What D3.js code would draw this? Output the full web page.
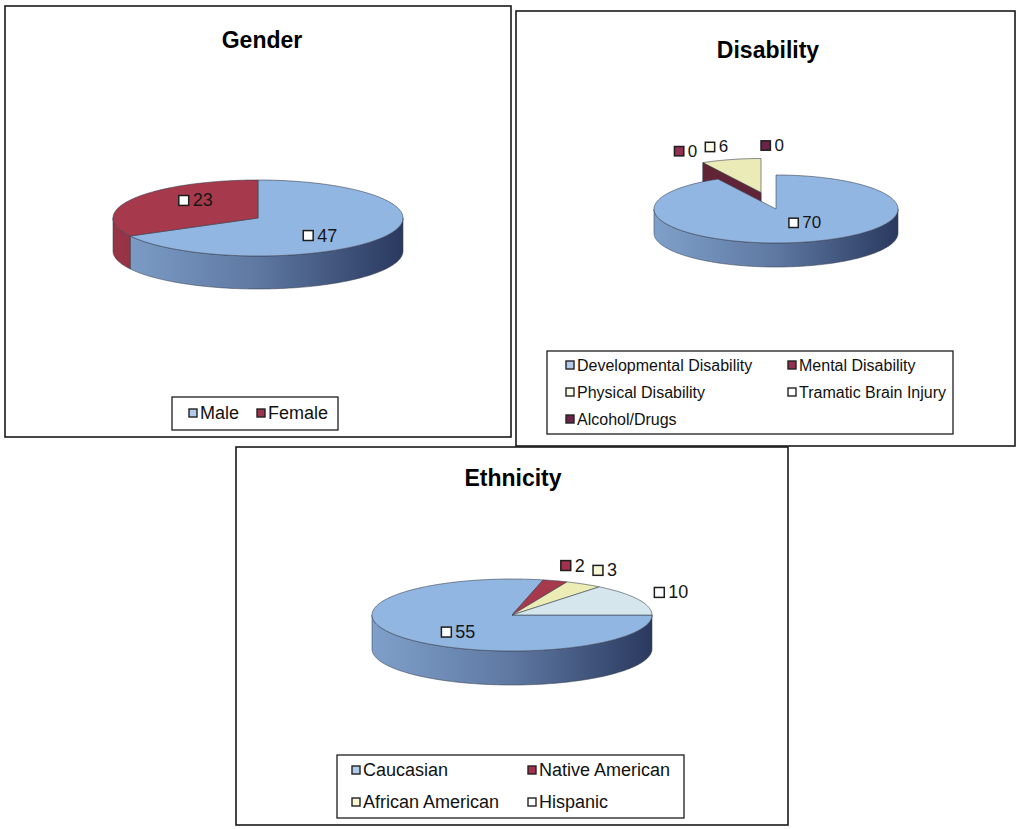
<!DOCTYPE html>
<html>
<head>
<meta charset="utf-8">
<script src="https://cdnjs.cloudflare.com/ajax/libs/d3/7.8.5/d3.min.js"></script>
<style>
  body { margin: 0; background: #fff; }
  svg { display: block; }
</style>
</head>
<body>
<svg id="chart" width="1019" height="829"></svg>
<script>
// ---- data ----
const genderCategories = ["Male", "Female"];
const genderValues = [47, 23];

const disabilityCategories = ["Developmental Disability", "Mental Disability", "Physical Disability",
                              "Tramatic Brain Injury", "Alcohol/Drugs"];
const disabilityValues = [70, 0, 6, 0, 0];

const ethnicityCategories = ["Caucasian", "Native American", "African American", "Hispanic"];
const ethnicityValues = [55, 2, 3, 10];

// ---- styling ----
const FONT = "'Liberation Sans', Arial, Helvetica, sans-serif";
const BLUE = "#92b6e2", BLUE_DEEP = "#2a395f", BLUE_KEY = "#b3cbea";
const RED = "#a63a4c", RED_DEEP = "#5a1a28";

const genderStyle = {
  fills: [BLUE, RED], deeps: [BLUE_DEEP, RED_DEEP], keys: [BLUE_KEY, "#9c3450"]
};
const disabilityStyle = {
  fills: [BLUE, "#9b3a56", "#ebebb8", "#f2fafc", "#5e1f4a"],
  deeps: [BLUE_DEEP, "#4a1526", "#7d7d55", "#8a9498", "#2a0c22"],
  keys: [BLUE_KEY, "#93304f", "#fbfbe6", "#ffffff", "#6a2448"]
};
const ethnicityStyle = {
  fills: [BLUE, RED, "#ececb5", "#d5e6ec"],
  deeps: [BLUE_DEEP, RED_DEEP, "#80805a", "#6f8088"],
  keys: [BLUE_KEY, "#a3304c", "#f7f7d4", "#ffffff"]
};

const charts = [
  {
    id: "gender", title: "Gender", categories: genderCategories, values: genderValues, style: genderStyle,
    frame: { x: 5, y: 6, w: 506, h: 431 }, titleX: 262, titleY: 48,
    pie: { cx: 258, cy: 218, rx: 145, ry: 38, depth: 33, start: 0 },
    explode: [0, 0], labelSide: ["in", "in"],
    inFx: 0.5, inFy: 0.9, outDx: 18, outDy: 16, labelSize: 18,
    legend: { x: 172, y: 397, w: 166, h: 33, colX: [189, 257], rowY: [413], size: 18 }
  },
  {
    id: "disability", title: "Disability", categories: disabilityCategories, values: disabilityValues, style: disabilityStyle,
    frame: { x: 516, y: 11, w: 499, h: 435 }, titleX: 768, titleY: 58,
    pie: { cx: 776, cy: 209, rx: 122, ry: 34, depth: 24, start: 0 },
    explode: [0, 0.5, 0.5, 0.5, 0.5], labelSide: ["in", "out", "out", "out", "out"],
    inFx: 0.97, inFy: 0.42, outDx: 12, outDy: 13, labelSize: 17,
    legend: { x: 547, y: 351, w: 406, h: 83, colX: [566, 788], rowY: [365, 392, 419], size: 16 }
  },
  {
    id: "ethnicity", title: "Ethnicity", categories: ethnicityCategories, values: ethnicityValues, style: ethnicityStyle,
    frame: { x: 236, y: 447, w: 552, h: 378 }, titleX: 513, titleY: 486,
    pie: { cx: 512, cy: 615, rx: 140, ry: 36, depth: 34, start: Math.PI / 2 },
    explode: [0, 0, 0, 0], labelSide: ["in", "out", "out", "out"],
    inFx: 0.49, inFy: 0.76, outDx: 18, outDy: 16, labelSize: 18,
    legend: { x: 337, y: 755, w: 347, h: 63, colX: [352, 528], rowY: [770, 802], size: 18 }
  }
];

const svg = d3.select("#chart");
const defs = svg.append("defs");
const outline = "#3a4050";

// projected point on the pie rim at angle a (clockwise from 12 o'clock)
function rim(p, a, off, dy = 0) {
  return [p.cx + off[0] + p.rx * Math.sin(a), p.cy + off[1] + dy - p.ry * Math.cos(a)];
}
function rimPoints(p, a0, a1, off, dy = 0) {
  const n = Math.max(2, Math.ceil(Math.abs(a1 - a0) / 0.02));
  return d3.range(n + 1).map(i => rim(p, a0 + (a1 - a0) * i / n, off, dy));
}
// parts of [a0,a1] on the front half of the pie, where the outer wall is seen
function frontRanges(a0, a1) {
  const out = [];
  for (let k = -1; k <= 2; k++) {
    const lo = Math.PI / 2 + 2 * Math.PI * k, hi = 3 * Math.PI / 2 + 2 * Math.PI * k;
    const s = Math.max(a0, lo), e = Math.min(a1, hi);
    if (e > s) out.push([s, e]);
  }
  return out;
}
const poly = pts => "M" + pts.map(q => q[0].toFixed(2) + "," + q[1].toFixed(2)).join("L") + "Z";

function drawLabel(g, x, y, align, text, fill, size) {
  const lg = g.append("g");
  const t = lg.append("text")
    .attr("font-family", FONT).attr("font-size", size).attr("fill", "#161616")
    .attr("dominant-baseline", "central").text(text);
  const tw = t.node().getComputedTextLength();
  const m = size * 0.55, gap = 4, total = m + gap + tw;
  const left = align === "left" ? x : align === "right" ? x - total : x - total / 2;
  lg.append("rect").attr("x", left).attr("y", y - m / 2).attr("width", m).attr("height", m)
    .attr("fill", fill).attr("stroke", "#1e1e1e").attr("stroke-width", 1.5);
  t.attr("x", left + m + gap).attr("y", y);
}

charts.forEach(c => {
  const g = svg.append("g").attr("class", c.id);
  const p = c.pie;
  const st = c.style;

  // panel frame and title
  g.append("rect").attr("x", c.frame.x).attr("y", c.frame.y).attr("width", c.frame.w).attr("height", c.frame.h)
    .attr("fill", "#fff").attr("stroke", "#1a1a1a").attr("stroke-width", 1.6);
  g.append("text").attr("x", c.titleX).attr("y", c.titleY).attr("text-anchor", "middle")
    .attr("font-family", FONT).attr("font-weight", "bold").attr("font-size", 23).attr("fill", "#000")
    .text(c.title);

  const arcs = d3.pie().sort(null).startAngle(p.start).endAngle(p.start + 2 * Math.PI)(c.values);

  // exploded slices move together along the bisector of their combined span
  const ex = arcs.filter((a, i) => c.explode[i] > 0);
  let offset = [0, 0];
  if (ex.length) {
    const mid = (d3.min(ex, a => a.startAngle) + d3.max(ex, a => a.endAngle)) / 2;
    const e = d3.max(c.explode);
    offset = [Math.sin(mid) * p.rx * e, -Math.cos(mid) * p.ry * e];
  }
  const offOf = i => c.explode[i] > 0 ? offset : [0, 0];

  // wall gradients: light on the left, deep on the right
  arcs.forEach((a, i) => {
    const grad = defs.append("linearGradient").attr("id", `${c.id}-wall-${i}`)
      .attr("gradientUnits", "userSpaceOnUse")
      .attr("x1", p.cx - p.rx).attr("x2", p.cx + p.rx).attr("y1", 0).attr("y2", 0);
    const mix = d3.interpolateRgb(st.fills[i], st.deeps[i]);
    [[0, 0.18], [0.5, 0.5], [1, 1]].forEach(([o, t]) =>
      grad.append("stop").attr("offset", o).attr("stop-color", mix(t)));
  });

  // cut faces of exploded slices (zero-width slices drawn last so they show)
  const faceOrder = arcs.map((a, i) => i).filter(i => c.explode[i] > 0)
    .sort((i, j) => (c.values[j] > 0) - (c.values[i] > 0));
  faceOrder.forEach(i => {
    const a = arcs[i], off = offOf(i);
    const ctr = [p.cx + off[0], p.cy + off[1]];
    const faces = [];
    if (Math.sin(a.startAngle) < -1e-6) faces.push(a.startAngle);
    if (Math.sin(a.endAngle) > 1e-6) faces.push(a.endAngle);
    faces.forEach(ang => {
      const r0 = rim(p, ang, off), r1 = rim(p, ang, off, p.depth);
      g.append("path")
        .attr("d", poly([ctr, r0, r1, [ctr[0], ctr[1] + p.depth]]))
        .attr("fill", d3.color(st.fills[i]).darker(1.3))
        .attr("stroke", outline).attr("stroke-width", 0.6);
    });
  });

  // outer walls
  arcs.forEach((a, i) => {
    if (a.endAngle - a.startAngle <= 0) return;
    const off = offOf(i);
    frontRanges(a.startAngle, a.endAngle).forEach(([s, e]) => {
      const pts = rimPoints(p, s, e, off).concat(rimPoints(p, e, s, off, p.depth));
      g.append("path").attr("d", poly(pts))
        .attr("fill", `url(#${c.id}-wall-${i})`)
        .attr("stroke", outline).attr("stroke-width", 0.7).attr("stroke-opacity", 0.8);
    });
  });

  // top faces: exploded (back) slices first
  const topOrder = arcs.map((a, i) => i).sort((i, j) => c.explode[j] - c.explode[i]);
  topOrder.forEach(i => {
    const a = arcs[i];
    if (a.endAngle - a.startAngle <= 0) return;
    const off = offOf(i);
    const full = a.endAngle - a.startAngle >= 2 * Math.PI - 1e-9;
    const pts = full ? rimPoints(p, 0, 2 * Math.PI, off)
                     : [[p.cx + off[0], p.cy + off[1]]].concat(rimPoints(p, a.startAngle, a.endAngle, off));
    g.append("path").attr("d", poly(pts))
      .attr("fill", st.fills[i])
      .attr("stroke", outline).attr("stroke-width", 0.7).attr("stroke-opacity", 0.85);
  });

  // data labels; a label sitting exactly under a later one is left out
  const spots = arcs.map((a, i) => {
    const mid = (a.startAngle + a.endAngle) / 2;
    const s = Math.sin(mid), k = Math.cos(mid);
    const off = offOf(i);
    if (c.labelSide[i] === "in") {
      return { x: p.cx + off[0] + s * p.rx * c.inFx, y: p.cy + off[1] - k * p.ry * c.inFy,
               align: "middle", fill: "#ffffff" };
    }
    return { x: p.cx + off[0] + s * (p.rx + c.outDx), y: p.cy + off[1] - k * (p.ry + c.outDy),
             align: s >= -0.05 ? "left" : "right", fill: st.keys[i] };
  });
  spots.forEach((sp, i) => {
    const covered = spots.some((o, j) => j > i && Math.abs(o.x - sp.x) < 0.5 && Math.abs(o.y - sp.y) < 0.5);
    if (covered) return;
    drawLabel(g, sp.x, sp.y, sp.align, String(c.values[i]), sp.fill, c.labelSize);
  });

  // legend
  const L = c.legend;
  g.append("rect").attr("x", L.x).attr("y", L.y).attr("width", L.w).attr("height", L.h)
    .attr("fill", "#fff").attr("stroke", "#1e1e1e").attr("stroke-width", 1.3);
  c.categories.forEach((name, i) => {
    const col = i % L.colX.length, row = Math.floor(i / L.colX.length);
    const x = L.colX[col], y = L.rowY[row];
    const m = 8;
    g.append("rect").attr("x", x).attr("y", y - m / 2).attr("width", m).attr("height", m)
      .attr("fill", st.keys[i]).attr("stroke", "#222").attr("stroke-width", 1.4);
    g.append("text").attr("x", x + m + 3).attr("y", y).attr("dominant-baseline", "central")
      .attr("font-family", FONT).attr("font-size", L.size).attr("fill", "#111").text(name);
  });
});
</script>
</body>
</html>
